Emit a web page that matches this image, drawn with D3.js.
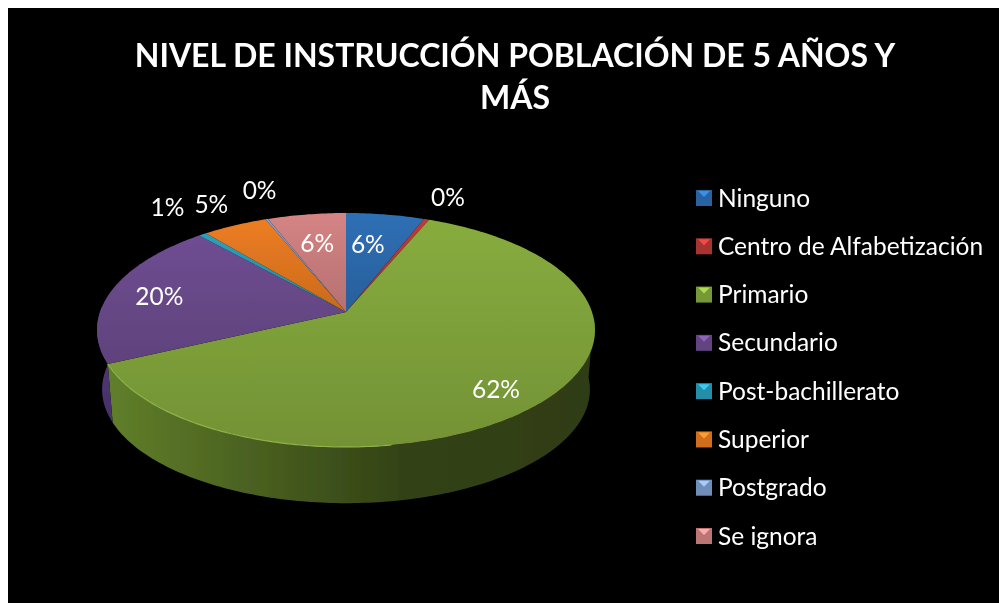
<!DOCTYPE html>
<html>
<head>
<meta charset="utf-8">
<script src="https://cdn.jsdelivr.net/npm/d3@7"></script>
<style>
  html, body { margin: 0; padding: 0; background: #fff; overflow: hidden; }
  svg { display: block; }
  text { font-family: Lato, "Open Sans", sans-serif; fill: #fff; }
</style>
</head>
<body>
<div class="chart"></div>
<script>
const categories = ["Ninguno", "Centro de Alfabetización", "Primario", "Secundario",
  "Post-bachillerato", "Superior", "Postgrado", "Se ignora"];
const values = [5.9, 0.4, 61.7, 20.4, 0.6, 4.9, 0.2, 5.9];
const labels = ["6%", "0%", "62%", "20%", "1%", "5%", "0%", "6%"];
const colors = ["#2f6fb5", "#bd3b37", "#87ac3e", "#6f4d92", "#2aa0bd", "#ed7d22", "#7f9fd0", "#d58484"];
const titleLines = ["NIVEL DE INSTRUCCIÓN POBLACIÓN DE 5 AÑOS Y", "MÁS"];

// where each label sits: fraction of radius, then a nudge in px
const labelRadius = [0.65, 1.15, 0.62, 0.75, 1.15, 1.15, 1.15, 0.65];
const labelNudge = [[-5, -1], [11, -10], [32, 25], [-10, 1], [-16, -17], [-9, -10], [3, -17], [-2, -2]];

const width = 999, height = 603;
const svg = d3.select(".chart").append("svg").attr("width", width).attr("height", height);
svg.append("rect").attr("x", 8).attr("y", 8).attr("width", width).attr("height", height).attr("fill", "#000");

const defs = svg.append("defs");
defs.append("filter").attr("id", "soft")
  .append("feGaussianBlur").attr("stdDeviation", 0.45);
defs.append("filter").attr("id", "softText")
  .append("feGaussianBlur").attr("stdDeviation", 0.3);

// perspective: the circle of the pie tilted towards the viewer
const k = 0.1538;
const top3d = { cx: 346, cy: 312, a: 246, b: 114.2 };
const bottom3d = { cx: 346, cy: 372, a: 241, b: 111 };

function project(angle, r, face) {
  const X = r * Math.sin(angle), Y = -r * Math.cos(angle);
  const w = 1 - k * Y;
  return [face.cx + face.a * X / w, face.cy + face.b * Y / w];
}

function rim(a0, a1, face) {
  const n = Math.max(2, Math.ceil((a1 - a0) * 60));
  return d3.range(n + 1).map(i => project(a0 + (a1 - a0) * i / n, 1, face));
}

const line = d3.line();
const slices = d3.pie().sort(null).value(d => d)(values);

function gradient(id, stops, x2, y2) {
  const g = defs.append("linearGradient").attr("id", id)
    .attr("x1", 0).attr("y1", 0).attr("x2", x2).attr("y2", y2);
  stops.forEach(s => g.append("stop").attr("offset", s[0]).attr("stop-color", s[1]));
}

const pie = svg.append("g").attr("filter", "url(#soft)");

// side wall, only the part turned to the viewer
const sideParts = [];
slices.forEach((d, i) => {
  const a0 = Math.max(d.startAngle, Math.PI / 2 + 0.05);
  const a1 = Math.min(d.endAngle, 3 * Math.PI / 2 + 0.05);
  if (a1 > a0) sideParts.push({ i, a0, a1 });
});
gradient("side2", [[0, "#607f2a"], [0.3, "#4a6020"], [0.6, "#334316"], [1, "#2f3c13"]], 1, 0);
gradient("side3", [[0, "#5a4080"], [1, "#452f66"]], 0, 1);
sideParts.forEach(p => {
  const pts = rim(p.a0, p.a1, top3d).concat(rim(p.a0, p.a1, bottom3d).reverse());
  pie.append("path")
    .attr("d", line(pts) + "Z")
    .attr("fill", "url(#side" + p.i + ")");
});

// top face
slices.forEach((d, i) => {
  const c = d3.color(colors[i]);
  gradient("face" + i, [[0, c.formatHex()], [1, c.darker(0.45).formatHex()]], 0, 1);
  const pts = [[top3d.cx, top3d.cy]].concat(rim(d.startAngle, d.endAngle, top3d));
  pie.append("path")
    .attr("d", line(pts) + "Z")
    .attr("fill", "url(#face" + i + ")");
});

// light edge along the front left of the top face
pie.append("path")
  .attr("d", line(rim(Math.PI * 0.95, slices[2].endAngle, top3d)))
  .attr("fill", "none")
  .attr("stroke", "#8fb24a")
  .attr("stroke-width", 1.2);

const textLayer = svg.append("g").attr("filter", "url(#softText)");

// slice labels
textLayer.append("g").selectAll("text")
  .data(slices)
  .join("text")
  .attr("text-anchor", "middle")
  .attr("font-size", 24.5)
  .attr("dy", "0.35em")
  .attr("x", (d, i) => project((d.startAngle + d.endAngle) / 2, labelRadius[i], top3d)[0] + labelNudge[i][0])
  .attr("y", (d, i) => project((d.startAngle + d.endAngle) / 2, labelRadius[i], top3d)[1] + labelNudge[i][1])
  .text((d, i) => labels[i]);

// title
textLayer.append("g").selectAll("text")
  .data(titleLines)
  .join("text")
  .attr("x", 515)
  .attr("y", (d, i) => 67 + i * 42)
  .attr("text-anchor", "middle")
  .attr("font-size", 32)
  .attr("font-weight", 700)
  .text(d => d);

// legend
const legendY = d3.scalePoint().domain(categories).range([198, 536]);
const legend = svg.append("g").selectAll("g")
  .data(categories)
  .join("g")
  .attr("transform", d => `translate(696,${legendY(d)})`);

legend.append("rect")
  .attr("y", -8).attr("width", 16).attr("height", 16)
  .attr("fill", (d, i) => d3.color(colors[i]).darker(0.35).formatHex());
legend.append("path")
  .attr("d", "M2,-7L14,-7L8,-1Z")
  .attr("fill", (d, i) => d3.color(colors[i]).brighter(0.7).formatHex());
textLayer.append("g").selectAll("text")
  .data(categories)
  .join("text")
  .attr("x", 718)
  .attr("y", d => legendY(d))
  .attr("dy", "0.35em")
  .attr("font-size", 24.5)
  .text(d => d);
</script>
</body>
</html>
